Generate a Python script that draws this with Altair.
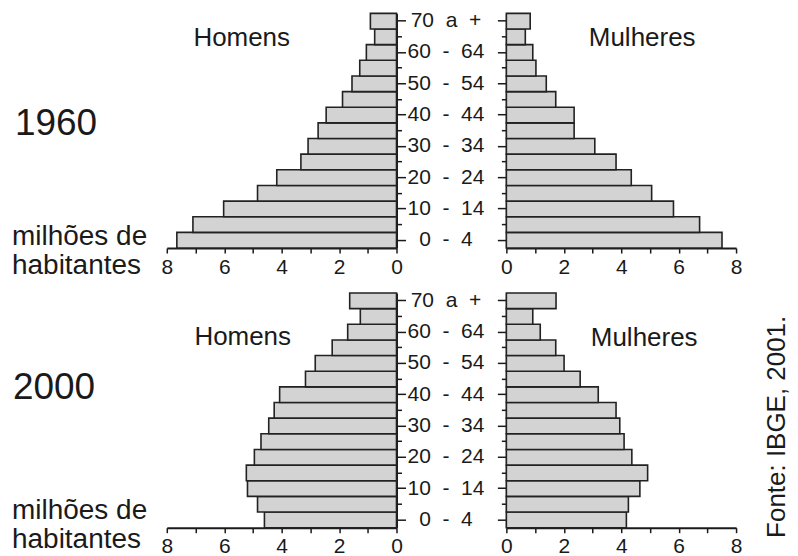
import altair as alt
import pandas as pd

ages = ["0 - 4", "5 - 9", "10 - 14", "15 - 19", "20 - 24", "25 - 29", "30 - 34",
        "35 - 39", "40 - 44", "45 - 49", "50 - 54", "55 - 59", "60 - 64", "65 - 69", "70 a +"]

men_1960 = [7.65, 7.09, 6.02, 4.84, 4.17, 3.33, 3.08, 2.73, 2.45, 1.88, 1.55, 1.28, 1.05, 0.76, 0.91]
women_1960 = [7.51, 6.73, 5.82, 5.06, 4.35, 3.82, 3.08, 2.36, 2.36, 1.72, 1.39, 1.03, 0.92, 0.66, 0.83]
men_2000 = [4.60, 4.84, 5.19, 5.23, 4.95, 4.72, 4.45, 4.26, 4.07, 3.17, 2.83, 2.24, 1.70, 1.26, 1.63]
women_2000 = [4.18, 4.25, 4.65, 4.92, 4.37, 4.10, 3.95, 3.82, 3.20, 2.57, 2.01, 1.72, 1.18, 0.92, 1.73]

x_ticks = [0, 1, 2, 3, 4, 5, 6, 7, 8]
shown_ages = ages[::2]

FONT = "Liberation Sans"
INK = "#1a1a1a"
FILL = "#d3d3d3"

NB = "\u00a0\u00a0"


def disp(a):
    return a.replace(" ", NB)


shown_js = "[" + ",".join("'" + a + "'" for a in shown_ages) + "]"
label_expr = ""
for a in shown_ages:
    label_expr += "datum.value == '" + a + "' ? '" + disp(a) + "' : "
label_expr += "''"

tick_cond = {"condition": {"test": "indexof(" + shown_js + ", datum.value) >= 0", "value": 9}, "value": 5}

W = 230
H = 235
GAP = 45


def y_enc(side):
    if side == "left":
        ax = alt.Axis(orient="right", labels=False, title=None, tickSize=tick_cond,
                      domainColor=INK, tickColor=INK, domainWidth=2, tickWidth=1.5)
    else:
        ax = alt.Axis(orient="left", title=None, tickSize=tick_cond, labelExpr=label_expr,
                      labelAlign="center", labelBaseline="middle", labelPadding=52,
                      labelFontSize=21, labelFont=FONT, labelColor=INK,
                      domainColor=INK, tickColor=INK, domainWidth=2, tickWidth=1.5)
    return alt.Y("age:N", sort=ages[::-1], axis=ax,
                 scale=alt.Scale(paddingInner=0, paddingOuter=0))


def x_enc(side):
    ax = alt.Axis(values=x_ticks, labelExpr="datum.value % 2 == 0 ? datum.label : ''",
                  title=None, grid=False, tickSize=5, tickWidth=1.5, domainWidth=2,
                  domainColor=INK, tickColor=INK, labelFontSize=21, labelFont=FONT,
                  labelColor=INK, labelPadding=3, labelFlush=False)
    return alt.X("v:Q", axis=ax,
                 scale=alt.Scale(domain=[0, 8], nice=False, reverse=(side == "left")))


def txt(s, x, y, size, align="left", angle=0, baseline="alphabetic"):
    props = dict(fontSize=size, font=FONT, color=INK, align=align, baseline=baseline)
    if angle:
        props["angle"] = angle
    return alt.Chart(pd.DataFrame({"t": [s]})).mark_text(**props).encode(
        text="t:N", x=alt.value(x), y=alt.value(y))


def panel(values, side, extras):
    df = pd.DataFrame({"age": ages, "v": values})
    bars = alt.Chart(df).mark_bar(fill=FILL, stroke="#222222", strokeWidth=1.6).encode(
        x=x_enc(side), y=y_enc(side))
    return alt.layer(bars, *extras).properties(width=W, height=H)


row1 = alt.hconcat(
    panel(men_1960, "left", [
        txt("1960", -152, 122, 37),
        txt("milhões de", -155, 232, 28),
        txt("habitantes", -155, 261, 28),
        txt("Homens", 75, 33, 26, align="center"),
    ]),
    panel(women_1960, "right", [
        txt("Mulheres", 136, 33, 26, align="center"),
    ]),
    spacing=110, bounds="flush")

row2 = alt.hconcat(
    panel(men_2000, "left", [
        txt("2000", -154, 106, 37),
        txt("milhões de", -155, 226, 28),
        txt("habitantes", -155, 255, 28),
        txt("Homens", 76, 52, 26, align="center"),
    ]),
    panel(women_2000, "right", [
        txt("Mulheres", 138, 53, 26, align="center"),
        txt("Fonte: IBGE, 2001.", 271, 134, 26, align="center", angle=270, baseline="middle"),
    ]),
    spacing=110, bounds="flush")

chart = alt.vconcat(row1, row2, spacing=H + GAP, bounds="flush").properties(
    padding={"left": 4, "top": 1, "right": 0, "bottom": 0}
).configure(font=FONT, background="white").configure_view(strokeWidth=0, stroke="transparent")

chart.save("out.html", embed_options={"renderer": "svg", "actions": False})
